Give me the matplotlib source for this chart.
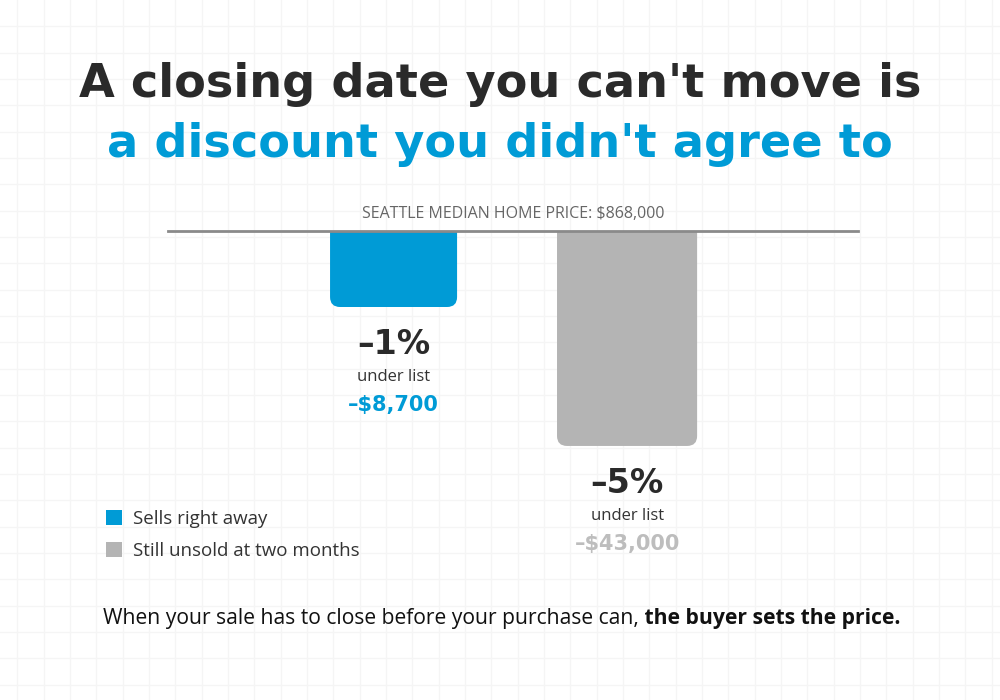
import numpy as np
import matplotlib
matplotlib.use("Agg")
import matplotlib.pyplot as plt
from matplotlib.patches import FancyBboxPatch, Patch
from matplotlib.transforms import IdentityTransform

# ---------------- data ----------------
title_line1 = "A closing date you can't move is"
title_line2 = "a discount you didn't agree to"
baseline_label = "SEATTLE MEDIAN HOME PRICE: $868,000"
categories = ["Sells right away", "Still unsold at two months"]
pct_change = [-1, -5]
dollar_change = [-8700, -43000]
sub_label = "under list"
footnote_regular = "When your sale has to close before your purchase can,"
footnote_bold = " the buyer sets the price."

# ---------------- style ----------------
DARK = "#2a2a2a"
BLUE = "#009bd6"
GREY_BAR = "#b4b4b4"
GREY_TXT = "#bdbdbd"
bar_colors = [BLUE, GREY_BAR]
value_colors = [BLUE, GREY_TXT]
bar_widths = [0.544, 0.60]

W, H = 1000, 700
fig = plt.figure(figsize=(10, 7), dpi=100)
fig.patch.set_facecolor("white")

# faint background grid
bg = fig.add_axes([0, 0, 1, 1], zorder=-10)
bg.set_xlim(0, W)
bg.set_ylim(H, 0)
bg.axis("off")
for gx in np.arange(17.3, W, 26.33):
    bg.axvline(gx, color="#f5f5f5", lw=1)
for gy in np.arange(26.33, H, 26.33):
    bg.axhline(gy, color="#f5f5f5", lw=1)

# ---------------- title ----------------
renderer = fig.canvas.get_renderer()
t1 = fig.text(0.5, 1 - 97 / H, title_line1, ha="center", va="baseline",
              fontsize=34, fontweight="bold", family="DejaVu Sans", color=DARK)
w1 = t1.get_window_extent(renderer).width
fs = 34 * 844 / w1
t1.set_fontsize(fs)
fig.text(0.5, 1 - 157 / H, title_line2, ha="center", va="baseline",
         fontsize=fs, fontweight="bold", family="DejaVu Sans", color=BLUE)

# ---------------- bars ----------------
p = 0.646
def fwd(v):
    v = np.asarray(v, dtype=float)
    return np.sign(v) * np.abs(v) ** p
def inv(t):
    t = np.asarray(t, dtype=float)
    return np.sign(t) * np.abs(t) ** (1 / p)

ax = fig.add_axes([168 / W, 1 - 535 / H, 690 / W, 304 / H])
ax.set_yscale("function", functions=(fwd, inv))
ax.set_xlim(-0.966, 1.989)
ax.set_ylim(float(inv(-4.0)), 0)
ax.axis("off")

xpos = np.arange(len(categories))
bars = ax.bar(xpos, pct_change, width=bar_widths, color=bar_colors)
rad = 10
for b, c in zip(bars, bar_colors):
    bb = b.get_bbox()
    (xa, ya), (xb, yb) = ax.transData.transform([[bb.x0, bb.y0], [bb.x1, bb.y1]])
    left, right = min(xa, xb), max(xa, xb)
    bottom, top = min(ya, yb), max(ya, yb)
    fp = FancyBboxPatch((left, bottom), right - left, (top - bottom) + 2 * rad,
                        boxstyle=f"round,pad=0,rounding_size={rad}",
                        transform=IdentityTransform(), facecolor=c,
                        edgecolor="none", zorder=2)
    ax.add_patch(fp)
    b.set_visible(False)

ax.axhline(0, color="#8a8a8a", lw=2, clip_on=False, zorder=5)
ax.annotate(baseline_label, xy=(0.5, 1), xycoords="axes fraction",
            xytext=(0, 13 * 0.72), textcoords="offset points",
            ha="center", va="baseline", family="Open Sans", fontsize=11.5,
            color="#666666", annotation_clip=False)

px2pt = 0.72
for i, (pc, dc) in enumerate(zip(pct_change, dollar_change)):
    ax.annotate(f"\u2013{abs(pc)}%", xy=(i, pc), xytext=(0, -38 * px2pt),
                textcoords="offset points", ha="center", va="center",
                family="DejaVu Sans", fontweight="bold", fontsize=24,
                color=DARK, annotation_clip=False)
    ax.annotate(sub_label, xy=(i, pc), xytext=(0, -70 * px2pt),
                textcoords="offset points", ha="center", va="center",
                family="Open Sans", fontsize=12, color="#333333",
                annotation_clip=False)
    ax.annotate(f"\u2013${abs(dc):,}", xy=(i, pc), xytext=(0, -98 * px2pt),
                textcoords="offset points", ha="center", va="center",
                family="DejaVu Sans", fontweight="bold", fontsize=15,
                color=value_colors[i], annotation_clip=False)

# ---------------- legend ----------------
handles = [Patch(facecolor=c, edgecolor="none") for c in bar_colors]
fig.legend(handles, categories, loc="upper left",
           bbox_to_anchor=(106 / W, 1 - 510 / H), frameon=False,
           borderpad=0, borderaxespad=0, handlelength=0.85,
           handleheight=0.85, handletextpad=0.6, labelspacing=0.76,
           prop={"family": "Open Sans", "size": 13.5}, labelcolor="#333333")

# ---------------- footnote ----------------
ft = fig.text(103 / W, 1 - 624 / H, footnote_regular, ha="left", va="baseline",
              family="Open Sans", fontsize=15.2, color="#111111")
bg.annotate(footnote_bold, xy=(1, 0), xycoords=ft, ha="left", va="bottom",
            family="Open Sans", fontweight="bold", fontsize=15.2,
            color="#111111", annotation_clip=False)

fig.savefig("out.png", dpi=100, facecolor="white")
